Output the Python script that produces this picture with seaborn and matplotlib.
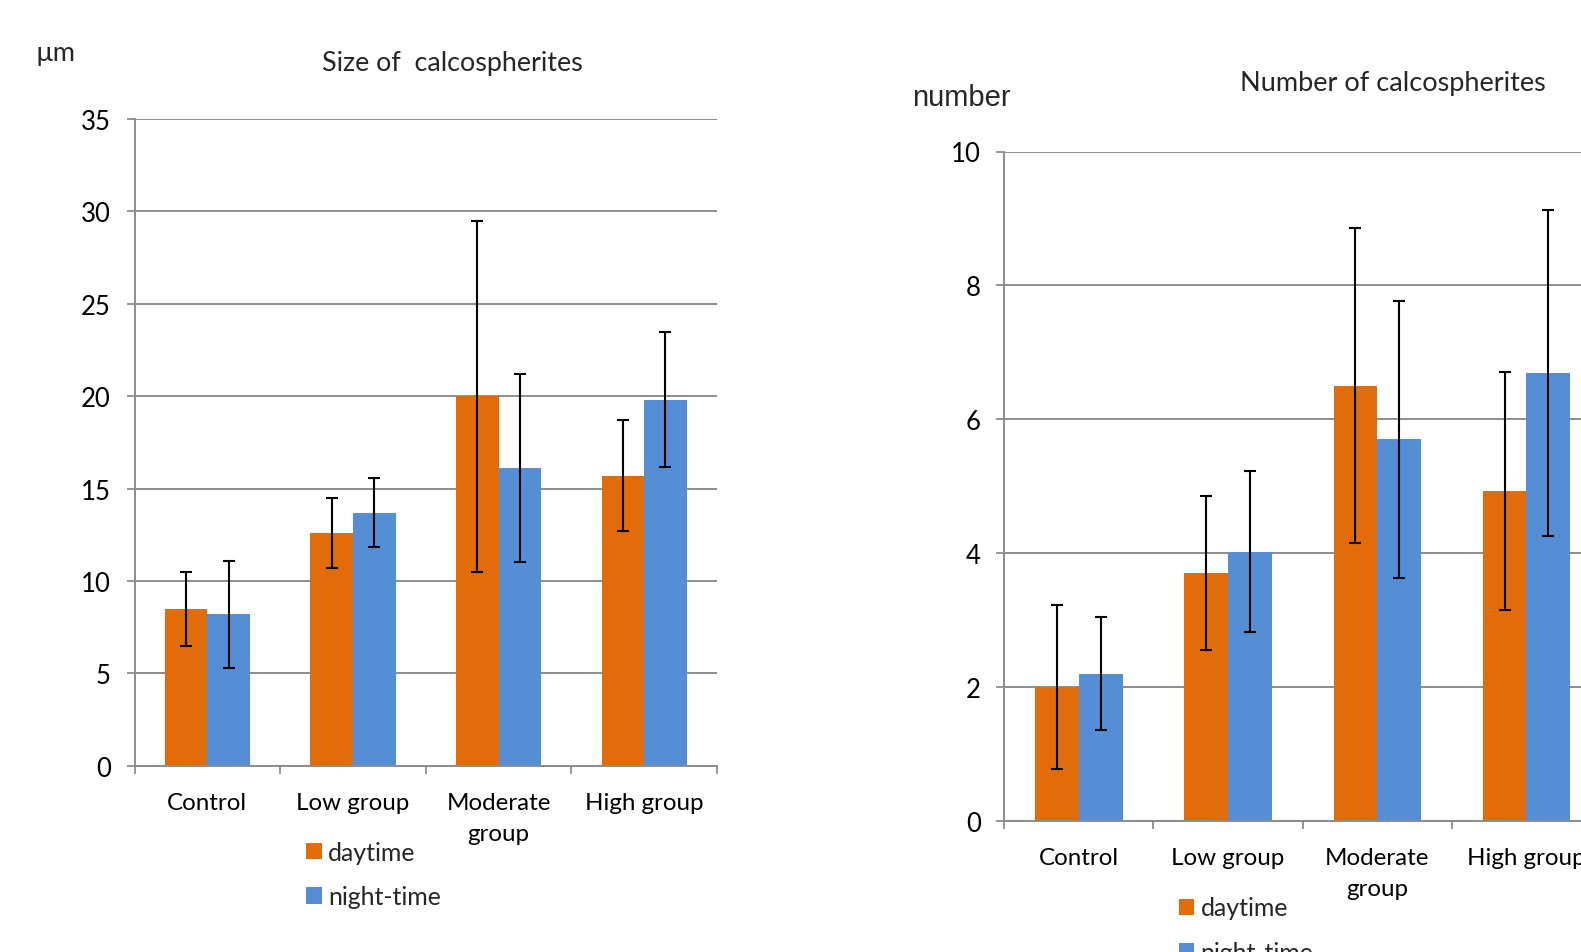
import matplotlib
matplotlib.use("Agg")
import matplotlib.pyplot as plt
import seaborn as sns
import pandas as pd

# Groups and tick labels
groups = ["Control", "Low group", "Moderate group", "High group"]
group_labels = ["Control", "Low group", "Moderate\ngroup", "High group"]
periods = ["daytime", "night-time"]

# Size of calcospherites (µm): mean and error
size_day = [8.5, 12.6, 20.0, 15.7]
size_day_err = [2.0, 1.9, 9.5, 3.0]
size_night = [8.2, 13.7, 16.1, 19.8]
size_night_err = [2.9, 1.85, 5.1, 3.65]

# Number of calcospherites: mean and error
count_day = [2.0, 3.7, 6.5, 4.93]
count_day_err = [1.22, 1.15, 2.35, 1.78]
count_night = [2.2, 4.02, 5.7, 6.69]
count_night_err = [0.84, 1.2, 2.07, 2.44]

palette = {"daytime": "#E36C0A", "night-time": "#558ED5"}
GRID = "#8C8C8C"
W, H = 1581, 953

sns.set_theme(style="white")
plt.rcParams["font.family"] = ["Lato", "DejaVu Sans"]

fig = plt.figure(figsize=(W / 100, H / 100), dpi=100)


def box(x0, x1, y_top, y_bottom):
    return [x0 / W, 1 - y_bottom / H, (x1 - x0) / W, (y_bottom - y_top) / H]


def panel(ax, day, day_err, night, night_err, ymax, step, legend_xy):
    df = pd.DataFrame({
        "group": groups * 2,
        "period": [periods[0]] * 4 + [periods[1]] * 4,
        "value": day + night,
    })
    sns.barplot(data=df, x="group", y="value", hue="period", order=groups,
                hue_order=periods, palette=palette, width=0.585, gap=0,
                errorbar=None, linewidth=0, saturation=1, ax=ax, zorder=2)
    errs = [day_err, night_err]
    vals = [day, night]
    for cont, v, e in zip(ax.containers, vals, errs):
        xs = [p.get_x() + p.get_width() / 2 for p in cont.patches]
        ax.errorbar(xs, v, yerr=e, fmt="none", ecolor="black",
                    elinewidth=1.5, capsize=4.3, capthick=1.5, zorder=4)

    ax.set_xlim(-0.5, 3.5)
    ax.set_ylim(0, ymax)
    ax.set_yticks(range(0, ymax + 1, step))
    ax.set_xticks(range(len(groups)))
    ax.set_xticklabels(group_labels, linespacing=1.58)
    ax.set_xticks([i - 0.5 for i in range(len(groups) + 1)], minor=True)
    ax.set_xlabel("")
    ax.set_ylabel("")
    ax.yaxis.grid(True, color=GRID, linewidth=1.4)
    ax.xaxis.grid(False)
    ax.set_axisbelow(True)
    for s in ["top", "right"]:
        ax.spines[s].set_visible(False)
    for s in ["left", "bottom"]:
        ax.spines[s].set_color(GRID)
        ax.spines[s].set_linewidth(1.4)
    ax.tick_params(axis="x", which="major", length=0, pad=19,
                   labelsize=17.4, labelcolor="black")
    ax.tick_params(axis="x", which="minor", length=6, width=1.3,
                   color=GRID, direction="out", bottom=True)
    ax.tick_params(axis="y", which="major", length=6, width=1.3,
                   color=GRID, direction="out", left=True, pad=11,
                   labelsize=18.5, labelcolor="black")

    handles, labels = ax.get_legend_handles_labels()
    ax.legend(handles, labels, loc="upper left",
              bbox_to_anchor=(legend_xy[0] / W, 1 - legend_xy[1] / H),
              bbox_transform=fig.transFigure, frameon=False, fontsize=17.9,
              handlelength=0.64, handleheight=0.64, handletextpad=0.25,
              labelspacing=0.86, borderpad=0, borderaxespad=0)


ax1 = fig.add_axes(box(134.5, 717, 120, 766.7))
panel(ax1, size_day, size_day_err, size_night, size_night_err, 35, 5,
      (306, 842))

ax2 = fig.add_axes(box(1004.3, 1600.9, 152.5, 821.8))
panel(ax2, count_day, count_day_err, count_night, count_night_err, 10, 2,
      (1178.5, 897.5))

fig.text(452.7 / W, 1 - 63 / H, "Size of  calcospherites",
         ha="center", va="center", fontsize=19.4)
fig.text(1392.5 / W, 1 - 84 / H, "Number of calcospherites",
         ha="center", va="center", fontsize=19.5)
fig.text(36 / W, 1 - 53 / H, "µm", ha="left", va="center", fontsize=19.5)
fig.text(912.5 / W, 1 - 97.5 / H, "number", ha="left", va="center",
         fontsize=21, family=["Liberation Sans", "DejaVu Sans"])

fig.savefig("out.png", dpi=100, facecolor="white")
